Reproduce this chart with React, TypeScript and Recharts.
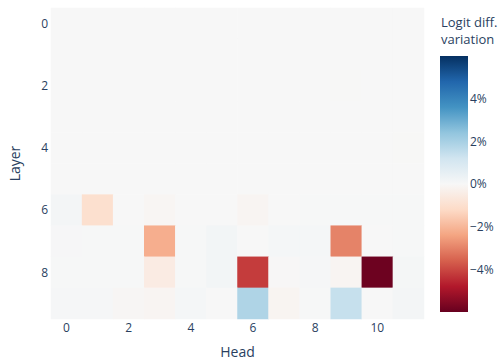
import { ScatterChart, Scatter, XAxis, YAxis, BarChart, Bar } from "recharts";

const heads = [0, 1, 2, 3, 4, 5, 6, 7, 8, 9, 10, 11];
const layers = [0, 1, 2, 3, 4, 5, 6, 7, 8, 9];
const headTicks = [0, 2, 4, 6, 8, 10];
const layerTicks = [0, 2, 4, 6, 8];
const barTicks = [-4, -2, 0, 2, 4];

// logit diff. variation in %, one row per layer
const variation = [
  [0, 0, 0, 0, 0, 0, 0, 0, 0, 0, 0, 0],
  [0, 0, 0, 0, 0, 0, 0, 0, 0, 0, 0, 0],
  [0, 0, 0, 0, 0, 0, 0, 0, 0, -0.02, 0, 0],
  [0, 0, 0, 0, 0, 0, 0, 0, 0, 0, 0, 0],
  [0, 0, 0, 0, 0, 0, 0, 0, 0, 0, 0, -0.02],
  [0, 0, 0, 0, 0, 0, 0, 0, 0, 0, 0, 0],
  [0.12, -1.0, 0, -0.1, 0, 0, -0.12, 0, 0.02, 0.02, 0.02, 0.03],
  [0.04, 0.03, 0.02, -2.2, 0.02, 0.15, 0, 0.08, 0.08, -3.0, 0, 0.03],
  [0.02, 0.02, 0.02, -0.5, 0.02, 0.15, -4.2, -0.03, 0.07, -0.12, -5.9, 0.1],
  [0.05, 0.05, -0.08, -0.12, 0.08, 0, 1.85, -0.15, 0.02, 1.4, 0, 0.12],
];

const rdbu = [
  [103, 0, 31], [178, 24, 43], [214, 96, 77], [244, 165, 130], [253, 219, 199],
  [247, 247, 247], [209, 229, 240], [146, 197, 222], [67, 147, 195], [33, 102, 172], [5, 48, 97],
];
const zmin = -6;
const zmax = 6;
const colorbar = [{ name: "cb", range: [zmin, zmax] }];

const colorFor = (v: number) => {
  const t = Math.max(0, Math.min(1, (v - zmin) / (zmax - zmin))) * (rdbu.length - 1);
  const i = Math.min(rdbu.length - 2, Math.floor(t));
  const f = t - i;
  const c = rdbu[i].map((a, k) => Math.round(a + (rdbu[i + 1][k] - a) * f));
  return `rgb(${c[0]},${c[1]},${c[2]})`;
};

const cells = layers.flatMap(l => heads.map(h => ({ head: h, layer: l, v: variation[l][h] })));

const W = 430;
const H = 362;
const M = { top: 8, right: 6, bottom: 0, left: 0 };
const YW = 51;
const XH = 43;
const cellW = (W - M.left - M.right - YW) / heads.length;
const cellH = (H - M.top - M.bottom - XH) / layers.length;

const font = '"Open Sans", verdana, arial, sans-serif';
const ink = "#2a3f5f";

const CellShape = (props: any) => {
  const { cx, cy, payload } = props;
  return (
    <rect
      x={cx - cellW / 2 - 0.25}
      y={cy - cellH / 2 - 0.25}
      width={cellW + 0.5}
      height={cellH + 0.5}
      fill={colorFor(payload.v)}
    />
  );
};

const fmtPct = (v: number) => `${v < 0 ? "\u2212" : ""}${Math.abs(v)}%`;

export default function App() {
  return (
    <div style={{ position: "relative", width: 499, height: 362, fontFamily: font, background: "#fff" }}>
      <style>{`body{margin:0}`}</style>
      <div style={{ position: "absolute", left: 0, top: 0 }}>
        <ScatterChart width={W} height={H} margin={M}>
          <XAxis
            type="number"
            dataKey="head"
            domain={[-0.5, 11.5]}
            ticks={headTicks}
            axisLine={false}
            tickLine={false}
            tickSize={0}
            tickMargin={4}
            height={XH}
            tick={{ fill: ink, fontSize: 12, fontFamily: font }}
            label={{ value: "Head", position: "insideBottom", offset: 5, fill: ink, fontSize: 14, fontFamily: font }}
          />
          <YAxis
            type="number"
            dataKey="layer"
            domain={[-0.5, 9.5]}
            reversed
            ticks={layerTicks}
            axisLine={false}
            tickLine={false}
            tickSize={0}
            tickMargin={3}
            width={YW}
            tick={{ fill: ink, fontSize: 12, fontFamily: font }}
            label={{ value: "Layer", angle: -90, position: "insideLeft", offset: 15, fill: ink, fontSize: 14, fontFamily: font, style: { textAnchor: "middle" } }}
          />
          <Scatter data={cells} shape={<CellShape />} isAnimationActive={false} />
        </ScatterChart>
      </div>
      <div style={{ position: "absolute", left: 441, top: 14, color: ink, fontSize: 13, lineHeight: "17px", whiteSpace: "nowrap" }}>
        Logit diff.<br />variation
      </div>
      <div style={{ position: "absolute", left: 430, top: 0 }}>
        <BarChart width={69} height={H} data={colorbar} margin={{ top: 56, right: 0, bottom: 50, left: 10 }} barCategoryGap={0}>
          <defs>
            <linearGradient id="cbar" x1="0" y1="1" x2="0" y2="0">
              {rdbu.map((c, i) => (
                <stop key={i} offset={`${(i / (rdbu.length - 1)) * 100}%`} stopColor={`rgb(${c[0]},${c[1]},${c[2]})`} />
              ))}
            </linearGradient>
          </defs>
          <XAxis dataKey="name" hide />
          <YAxis
            type="number"
            orientation="right"
            domain={[zmin, zmax]}
            ticks={barTicks}
            axisLine={false}
            tickLine={false}
            tickSize={0}
            tickMargin={2}
            width={31}
            tickFormatter={fmtPct}
            tick={{ fill: ink, fontSize: 12, fontFamily: font }}
          />
          <Bar dataKey="range" fill="url(#cbar)" isAnimationActive={false} />
        </BarChart>
      </div>
    </div>
  );
}
